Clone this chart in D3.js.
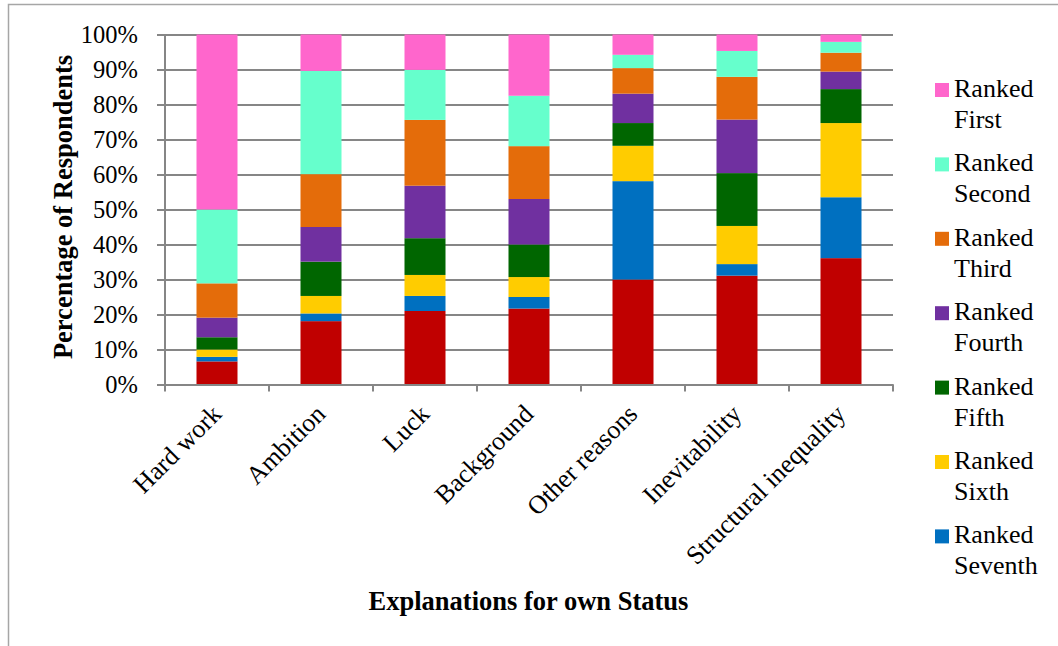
<!DOCTYPE html>
<html>
<head>
<meta charset="utf-8">
<script src="https://cdn.jsdelivr.net/npm/d3@7"></script>
<style>
  html, body { margin: 0; padding: 0; background: #fff; }
  svg { display: block; }
</style>
</head>
<body>
<svg id="chart" width="1058" height="646"></svg>
<script>
// Explanations respondents gave for their own status, share of each ranking (%)
const categories = ["Hard work", "Ambition", "Luck", "Background", "Other reasons", "Inevitability", "Structural inequality"];
const seriesNames = ["Ranked First", "Ranked Second", "Ranked Third", "Ranked Fourth", "Ranked Fifth", "Ranked Sixth", "Ranked Seventh", "Ranked Eighth"];
const seriesColors = ["#FF66CC", "#66FFCC", "#E46C0A", "#7030A0", "#006600", "#FFCC00", "#0070C0", "#C00000"];

const rankedFirst   = [50.0, 10.4, 10.1, 17.5,  5.8,  4.7,  2.1];
const rankedSecond  = [21.1, 29.5, 14.3, 14.4,  3.8,  7.4,  3.1];
const rankedThird   = [ 9.8, 15.1, 18.8, 15.1,  7.3, 12.2,  5.4];
const rankedFourth  = [ 5.6,  9.9, 15.0, 13.0,  8.4, 15.3,  5.0];
const rankedFifth   = [ 3.5,  9.8, 10.5,  9.3,  6.5, 15.1,  9.7];
const rankedSixth   = [ 2.1,  5.0,  6.0,  5.7, 10.1, 10.9, 21.2];
const rankedSeventh = [ 1.3,  2.2,  4.3,  3.3, 28.1,  3.3, 17.4];
const rankedEighth  = [ 6.6, 18.1, 21.0, 21.7, 30.0, 31.1, 36.1];

const yTicks = [0, 10, 20, 30, 40, 50, 60, 70, 80, 90, 100];
const legendCount = 7;   // the legend box only has room for the first seven entries

const seriesValues = [rankedFirst, rankedSecond, rankedThird, rankedFourth, rankedFifth, rankedSixth, rankedSeventh, rankedEighth];

// Table for d3.stack: one row per category
const table = categories.map((c, i) => {
  const row = { category: c };
  seriesNames.forEach((s, j) => { row[s] = seriesValues[j][i]; });
  return row;
});

const svg = d3.select("#chart");
const plotLeft = 165, plotRight = 893, plotTop = 34.5, plotBottom = 384.5;
const gridColor = "#868686";
const serif = '"Liberation Serif", "Times New Roman", serif';

// Outer chart border
svg.append("rect")
  .attr("x", 8.5).attr("y", 4.5)
  .attr("width", 1100).attr("height", 700)
  .attr("fill", "none").attr("stroke", "#a6a6a6").attr("stroke-width", 1.5);

const x = d3.scaleBand().domain(categories).range([plotLeft, plotRight])
  .paddingInner(1 - 41 / 104).paddingOuter((1 - 41 / 104) / 2);
const y = d3.scaleLinear().domain([0, 100]).range([plotBottom, plotTop]);

// Horizontal gridlines (extend slightly left of the axis as tick marks)
svg.append("g")
  .attr("transform", `translate(${plotLeft},0)`)
  .call(d3.axisLeft(y).tickValues(yTicks).tickSize(8).tickFormat(d => d + "%").tickPadding(19))
  .call(g => g.attr("font-family", null).attr("font-size", null))
  .call(g => g.select(".domain").remove())
  .call(g => g.selectAll(".tick line").attr("stroke", gridColor).attr("stroke-width", 2)
    .attr("x1", -8).attr("x2", plotRight - plotLeft))
  .call(g => g.selectAll(".tick text").attr("font-size", 24.5).style("font-family", serif)
    .attr("fill", "#000").attr("dy", "0.32em"));

// Stacked bars, bottom-most rank first
const stackKeys = seriesNames.slice().reverse();
const stacked = d3.stack().keys(stackKeys)(table);
const colorOf = d3.scaleOrdinal().domain(seriesNames).range(seriesColors);

svg.append("g").selectAll("g")
  .data(stacked)
  .join("g")
  .attr("fill", d => colorOf(d.key))
  .selectAll("rect")
  .data(d => d)
  .join("rect")
  .attr("x", d => x(d.data.category))
  .attr("width", x.bandwidth())
  .attr("y", d => y(d[1]))
  .attr("height", d => y(d[0]) - y(d[1]));

// Vertical axis line
svg.append("line")
  .attr("x1", plotLeft).attr("x2", plotLeft).attr("y1", plotTop).attr("y2", plotBottom)
  .attr("stroke", gridColor).attr("stroke-width", 2);

// Category axis with tick marks between categories
const xAxis = svg.append("g")
  .attr("transform", `translate(0,${plotBottom})`)
  .call(d3.axisBottom(x).tickSize(0).tickSizeOuter(0).tickPadding(0))
  .call(g => g.attr("font-family", null).attr("font-size", null))
  .call(g => g.select(".domain").attr("stroke", gridColor).attr("stroke-width", 2));

const step = x.step();
const boundaries = categories.map(c => x(c) - (step - x.bandwidth()) / 2).concat([plotRight]);
xAxis.selectAll(".divider")
  .data(boundaries)
  .join("line")
  .attr("class", "divider")
  .attr("x1", d => d).attr("x2", d => d)
  .attr("y1", 0).attr("y2", 7)
  .attr("stroke", gridColor).attr("stroke-width", 2);

xAxis.selectAll(".tick text")
  .attr("font-size", 26)
  .style("font-family", serif)
  .attr("fill", "#000")
  .attr("text-anchor", "end")
  .attr("dy", 0)
  .attr("y", 0)
  .attr("transform", "translate(6,31) rotate(-45)");

// Axis titles
svg.append("text")
  .attr("x", 528.5).attr("y", 610)
  .attr("text-anchor", "middle")
  .style("font-family", serif)
  .attr("font-size", 26.5).attr("font-weight", "bold")
  .text("Explanations for own Status");

svg.append("text")
  .attr("transform", "translate(72,207) rotate(-90)")
  .attr("text-anchor", "middle")
  .style("font-family", serif)
  .attr("font-size", 26.5).attr("font-weight", "bold")
  .text("Percentage of Respondents");

// Legend
const legend = svg.append("g");
const items = legend.selectAll("g")
  .data(seriesNames.slice(0, legendCount))
  .join("g")
  .attr("transform", (d, i) => `translate(935,${97 + i * 74.4})`);

items.append("rect")
  .attr("x", 0).attr("y", -14)
  .attr("width", 14).attr("height", 14)
  .attr("fill", d => colorOf(d));

items.append("text")
  .attr("x", 19).attr("y", 0)
  .style("font-family", serif)
  .attr("font-size", 26)
  .selectAll("tspan")
  .data(d => d.split(" "))
  .join("tspan")
  .attr("x", 19)
  .attr("dy", (d, i) => i === 0 ? 0 : 31)
  .text(d => d);
</script>
</body>
</html>
